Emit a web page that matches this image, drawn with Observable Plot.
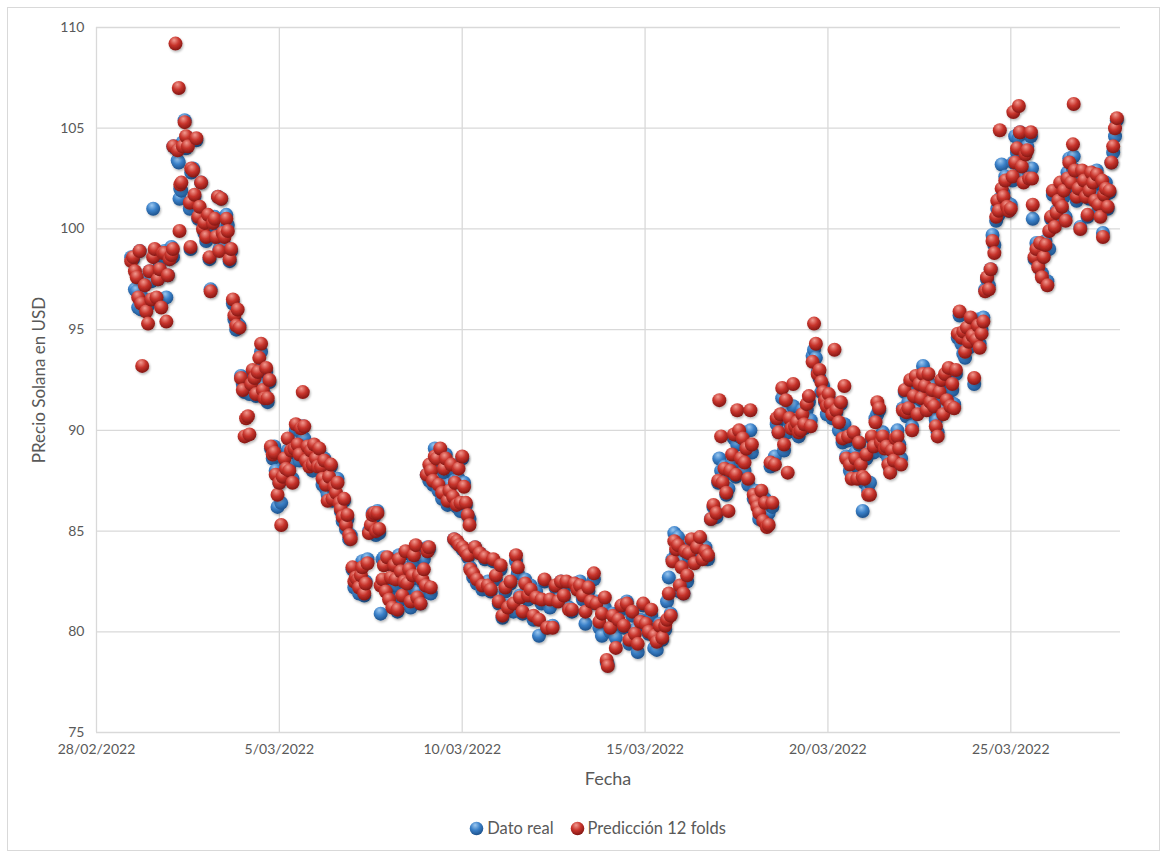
<!DOCTYPE html>
<html lang="es">
<head>
<meta charset="utf-8">
<script src="https://cdn.jsdelivr.net/npm/d3@7"></script>
<script src="https://cdn.jsdelivr.net/npm/@observablehq/plot@0.6"></script>
<style>
html,body{margin:0;padding:0;background:#fff;}
#wrap{position:relative;width:1167px;height:853px;overflow:hidden;font-family:Lato,"Open Sans",sans-serif;color:#595959;}
#frame{position:absolute;left:7px;top:7px;width:1153px;height:844px;border:1px solid #d9d9d9;box-sizing:border-box;}
#chart{position:absolute;left:0;top:0;}
#ytitle{position:absolute;left:38px;top:380px;transform:translate(-50%,-50%) rotate(-90deg);font-size:17px;white-space:nowrap;}
#xtitle{position:absolute;left:608px;top:778px;transform:translate(-50%,-50%);font-size:18px;}
#legend{position:absolute;left:14px;width:1167px;top:828px;transform:translateY(-50%);display:flex;justify-content:center;align-items:center;gap:16px;font-size:16.5px;}
.item{display:flex;align-items:center;gap:3px;}
</style>
</head>
<body>
<div id="wrap">
  <div id="frame"></div>
  <div id="chart"></div>
  <div id="ytitle">PRecio Solana en USD</div>
  <div id="xtitle">Fecha</div>
  <div id="legend"></div>
</div>
<script>
// Series names, axis ticks
const seriesNames = ["Dato real", "Predicción 12 folds"];
const xTickLabels = ["28/02/2022", "5/03/2022", "10/03/2022", "15/03/2022", "20/03/2022", "25/03/2022"];
const xDomainLabels = ["28/02/2022", "28/03/2022"];
const yTicks = [75, 80, 85, 90, 95, 100, 105, 110];

// Fecha (Excel serial date-time)
const fecha = [
44620.95,44621.00,44621.05,44621.10,44621.14,44621.18,44621.22,44621.25,44621.32,44621.36,44621.41,44621.45,44621.50,44621.55,44621.59,44621.64,44621.68,44621.73,44621.77,44621.82,44621.86,44621.91,44621.95,44622.00,44622.05,44622.09,
44622.10,44622.16,44622.22,44622.25,44622.27,44622.29,44622.32,44622.36,44622.41,44622.45,44622.50,44622.55,44622.57,44622.59,44622.64,44622.68,44622.73,44622.78,44622.82,44622.86,44622.91,44622.95,44623.00,44623.05,44623.09,44623.12,44623.18,44623.23,44623.27,44623.32,44623.36,44623.41,44623.45,44623.50,44623.55,44623.59,44623.64,44623.68,
44623.73,44623.77,44623.82,44623.86,44623.91,44623.95,44624.00,44624.05,44624.09,44624.14,44624.18,44624.23,44624.27,44624.32,44624.36,44624.41,44624.45,44624.50,44624.55,44624.59,44624.64,44624.68,44624.73,44624.77,44624.82,44624.86,44624.90,44624.95,44625.00,44625.05,44625.09,44625.14,44625.18,44625.23,44625.27,44625.32,44625.36,44625.41,44625.45,44625.50,44625.55,44625.59,44625.64,44625.68,44625.73,44625.77,44625.82,
44625.86,44625.91,44625.95,44626.00,44626.05,44626.09,44626.14,44626.18,44626.23,44626.27,44626.32,44626.36,44626.41,44626.45,44626.50,44626.55,44626.59,44626.64,44626.68,44626.73,44626.77,44626.82,44626.86,44626.91,44626.95,44627.00,44627.05,44627.09,44627.14,44627.18,44627.23,44627.27,44627.32,44627.36,44627.41,44627.45,44627.50,44627.55,44627.59,44627.64,44627.68,44627.73,44627.77,44627.82,44627.86,44627.91,44627.95,44628.00,44628.05,44628.09,44628.14,44628.18,44628.23,44628.27,44628.32,44628.36,44628.41,44628.45,44628.50,44628.55,44628.59,44628.64,44628.68,44628.73,44628.77,44628.82,44628.86,44628.91,44628.95,44629.00,44629.05,44629.09,44629.14,
44629.03,44629.10,44629.15,44629.20,44629.25,44629.30,44629.35,44629.40,44629.45,44629.50,44629.55,44629.60,44629.65,44629.70,44629.75,44629.80,44629.85,44629.90,44629.95,44630.00,44630.05,44630.10,44630.15,44630.20,44629.78,44629.86,44629.92,44630.01,44630.08,44630.16,44630.22,
44630.30,44630.35,44630.40,44630.48,44630.55,44630.62,44630.70,44630.78,44630.85,44630.92,44631.00,44631.05,44631.10,44631.18,44631.25,44631.32,44631.40,44631.47,44631.52,44631.58,44631.65,44631.72,44631.80,44631.87,44631.95,44632.02,44632.10,44632.17,44632.25,44632.32,44632.40,44632.47,44632.55,44632.62,44632.70,44632.78,44632.85,44632.92,44633.00,44633.07,44633.15,44633.22,44633.30,44633.37,44633.45,44633.52,44633.60,44633.67,44633.75,44633.82,44633.90,44633.95,44633.98,44634.05,44634.12,44634.20,44634.27,44634.35,44634.42,44634.50,44634.57,44634.65,44634.72,44634.80,44634.87,44634.95,44635.02,44635.10,44635.17,44635.25,44635.32,44635.40,44635.47,44635.55,44635.60,44635.65,44635.70,44635.75,44635.80,44635.85,44635.90,
44635.95,44636.00,44636.05,44636.10,44636.15,44636.20,44636.27,44636.35,44636.42,44636.50,44636.57,44636.65,44636.72,44636.80,44636.87,44636.95,44637.00,44637.03,44637.08,44637.12,44637.17,44637.22,44637.28,44637.33,44637.38,44637.43,44637.48,44637.52,44637.57,44637.62,44637.67,44637.72,44637.77,44637.82,44637.88,44637.92,44637.97,44638.02,44638.07,44638.12,44638.18,44638.23,44638.28,44638.33,44638.38,44638.43,44638.48,44638.55,44638.60,44638.65,44638.70,44638.75,44638.80,44638.85,44638.90,44638.95,44639.00,44639.05,44639.10,44639.15,44639.20,44639.25,44639.30,44639.35,44639.42,44639.48,44639.53,44639.58,44639.62,44639.67,44639.72,44639.77,44639.82,44639.87,44639.92,44639.97,44640.02,44640.07,44640.12,44640.18,44640.23,44640.30,44640.35,44640.40,44640.45,44640.50,44640.55,44640.60,44640.65,44640.70,44640.75,44640.80,44640.85,44640.90,44640.95,44641.00,44641.05,44641.10,
44641.15,44641.20,44641.25,44641.30,44641.35,44641.40,44641.45,44641.50,44641.55,44641.60,44641.65,44641.70,44641.75,44641.80,44641.85,44641.90,44641.95,44642.00,44642.05,44642.10,44642.15,44642.20,44642.25,44642.30,44642.35,44642.40,44642.45,44642.50,44642.55,44642.60,44642.65,44642.70,44642.75,44642.80,44642.85,44642.90,44642.95,44643.00,44643.05,44643.10,44643.15,44643.20,44643.25,44643.30,44643.35,44643.40,44643.45,44643.50,44643.55,44643.60,44643.65,44643.70,44643.75,44643.80,44643.85,44643.90,44643.95,44644.00,44644.05,44644.10,44644.15,44644.20,44644.25,44644.30,44644.35,44644.40,44644.45,44644.50,44644.55,44644.60,44644.63,44644.67,44644.70,44644.75,44644.80,44644.85,44644.90,44644.95,44645.00,44645.05,44645.07,44645.12,44645.17,44645.22,44645.25,44645.30,44645.35,44645.40,44645.45,44645.50,44645.55,44645.58,44645.60,44645.65,44645.70,44645.75,44645.80,44645.85,44645.90,44645.95,44646.00,44646.05,44646.10,44646.15,44646.20,44646.25,44646.30,44646.35,44646.40,44646.45,44646.50,44646.55,44646.60,44646.65,44646.70,44646.72,44646.75,44646.80,44646.85,44646.90,44646.95,44647.00,44647.05,44647.10,44647.15,44647.20,44647.25,44647.30,44647.35,44647.40,44647.45,44647.50,44647.52,44647.55,44647.60,44647.65,44647.70,44647.75,44647.80,44647.85,44647.90
];

// Dato real (USD)
const real = [
98.6,98.5,97.0,96.9,96.1,98.9,96.0,96.6,97.5,96.0,96.2,97.9,97.4,101.0,98.7,97.8,97.5,98.3,96.3,98.6,98.9,96.6,97.7,98.5,99.1,98.6,
104.1,104.0,103.4,103.3,101.5,102.0,101.9,104.3,105.4,104.0,104.5,101.0,99.0,102.8,103.0,101.6,104.4,100.5,100.8,102.3,100.3,99.8,99.4,99.9,98.5,97.0,100.1,100.6,99.6,101.6,99.0,101.5,100.1,99.2,100.7,100.2,98.4,98.9,
96.3,95.5,95.0,95.3,95.2,92.7,92.3,91.9,92.0,92.2,91.8,92.4,92.9,92.2,91.7,93.0,92.5,93.9,92.2,91.8,92.9,91.4,92.4,89.1,88.6,89.2,88.0,86.2,87.4,86.4,87.8,88.5,87.9,89.0,88.2,88.4,87.6,88.9,90.0,89.4,88.5,89.9,90.2,89.6,88.7,89.1,88.3,
88.8,88.0,89.2,88.5,88.3,89.0,88.0,87.3,88.6,87.1,86.8,87.5,88.2,86.5,87.0,86.6,87.6,86.4,86.0,85.5,86.5,85.1,85.6,84.6,84.8,83.1,82.2,82.8,83.0,81.9,82.6,83.5,81.8,82.5,83.6,85.0,85.1,85.9,85.7,84.8,86.0,84.9,80.9,83.6,83.7,82.3,83.5,82.0,82.6,81.5,83.2,82.3,81.0,83.8,82.7,81.6,82.9,83.9,82.1,83.2,81.2,82.6,83.5,84.2,82.0,82.9,81.4,82.5,83.6,82.0,84.2,84.1,81.9,
87.8,87.5,88.2,87.3,89.1,88.4,87.0,88.6,86.6,87.9,88.8,86.3,87.3,88.0,86.4,87.5,86.2,87.6,86.0,88.6,87.4,86.3,85.8,85.6,84.6,84.4,84.3,84.1,84.0,83.7,83.2,
82.7,84.2,82.4,83.9,82.1,83.6,82.5,82.0,83.5,82.6,81.4,83.1,80.7,82.0,81.3,82.4,81.0,83.5,82.9,81.8,80.9,82.6,81.6,82.3,80.6,82.0,79.8,81.4,82.5,80.2,81.2,80.3,82.2,81.6,82.5,81.7,82.3,81.2,81.0,82.3,82.1,82.5,81.6,80.4,82.0,81.4,82.6,81.5,80.2,79.8,81.2,78.5,78.4,80.0,80.9,79.7,80.4,81.1,80.2,81.5,79.4,80.8,80.1,79.0,80.6,81.3,80.3,79.9,80.8,79.2,79.1,80.4,79.6,80.1,81.5,82.7,80.9,83.6,84.9,83.9,84.7,
82.0,83.5,81.9,84.2,82.5,83.7,84.4,83.5,84.0,84.6,83.8,84.2,83.6,85.6,86.2,85.7,87.4,88.6,88.0,87.6,88.2,86.8,87.1,87.9,88.4,89.6,87.7,89.3,89.7,88.4,89.9,88.0,89.3,87.3,90.0,88.9,86.6,87.0,86.4,85.6,86.9,85.8,86.6,85.5,85.9,88.2,86.2,88.7,90.3,89.9,90.6,91.6,89.0,90.9,89.9,90.4,90.3,91.2,90.0,90.5,89.7,90.2,91.0,90.1,91.0,91.4,90.5,93.7,94.0,93.6,92.9,92.6,91.9,92.2,91.4,90.8,91.6,91.1,90.6,91.2,90.9,90.0,91.3,89.4,90.3,88.7,89.5,88.0,87.8,89.7,88.9,88.2,89.3,88.5,86.0,87.4,88.6,87.0,
87.4,89.6,88.9,90.6,90.8,91.0,89.3,89.9,88.9,89.4,88.6,88.1,89.0,88.4,89.5,90.0,89.3,88.6,91.1,91.9,90.7,91.4,92.3,90.2,91.8,92.5,91.0,92.1,91.5,93.2,92.0,91.3,92.4,91.6,92.2,90.9,90.5,89.9,91.6,92.3,91.0,92.6,91.7,92.9,91.4,92.0,91.3,92.8,94.6,95.7,94.3,93.8,93.6,94.9,94.1,95.3,94.5,92.3,94.8,95.5,94.3,95.0,95.6,97.0,97.5,97.2,98.0,99.7,99.2,100.4,101.0,100.7,101.5,103.2,101.8,102.6,101.3,100.9,101.2,102.4,103.3,104.6,103.8,104.5,104.8,103.0,102.6,103.7,104.1,102.8,104.6,103.0,100.5,98.5,99.3,98.3,99.1,97.8,98.8,99.4,97.4,99.0,100.5,101.7,100.2,100.9,101.8,102.0,100.9,101.6,100.6,102.8,103.5,102.1,103.0,103.6,102.7,101.4,102.2,100.1,102.7,102.5,101.9,100.6,101.5,102.6,102.1,101.6,102.9,101.0,100.7,102.2,99.8,101.6,102.3,101.0,101.8,103.3,103.8,104.6,105.4
];

// Predicción 12 folds (USD)
const pred = [
98.4,98.6,97.9,97.6,96.6,98.9,96.3,93.2,97.2,95.9,95.3,97.9,96.5,98.6,99.0,96.6,97.5,98.0,96.1,98.8,98.8,95.4,97.7,98.5,98.7,99.0,
104.1,109.2,103.9,107.0,99.9,102.2,102.3,104.1,105.3,104.6,104.1,101.3,99.1,103.0,102.9,101.7,104.5,100.6,101.1,102.3,100.0,100.3,99.6,100.7,98.6,96.9,100.3,100.5,99.6,101.6,98.9,101.5,99.8,99.6,100.5,99.9,98.5,99.0,
96.5,95.7,95.2,96.0,95.1,92.6,92.0,89.7,90.6,90.7,89.8,92.3,93.0,92.6,91.8,92.9,93.6,94.3,92.0,91.6,93.1,91.6,92.5,89.2,88.8,88.9,87.8,86.8,87.4,85.3,87.7,88.6,88.1,89.6,88.0,89.0,87.4,89.1,90.3,89.3,88.8,90.1,91.9,90.2,88.5,89.2,88.2,
89.0,88.3,89.3,88.6,88.2,89.1,88.2,87.6,88.5,87.3,86.5,87.7,88.3,86.6,87.2,86.9,87.4,86.4,86.1,85.7,86.6,85.3,85.8,84.8,84.6,83.2,82.5,82.7,82.6,82.2,82.8,83.2,81.9,82.4,83.4,84.9,85.3,85.8,85.9,85.0,85.9,85.1,82.3,82.6,83.3,82.0,83.7,81.6,82.7,81.2,83.3,82.6,81.1,83.6,83.0,81.8,82.5,84.0,82.4,83.1,81.5,82.8,83.8,84.3,81.7,82.8,81.4,82.6,83.1,82.3,84.0,84.2,82.2,
87.8,88.3,88.0,87.5,88.7,88.6,87.3,89.1,86.9,88.1,88.6,86.5,87.0,88.3,86.7,87.4,86.3,88.1,86.4,88.7,87.2,86.4,85.8,85.3,84.6,84.5,84.3,84.2,84.0,83.8,83.1,
82.9,84.2,82.6,83.9,82.3,83.7,82.3,82.1,83.6,82.8,81.5,83.3,80.8,82.2,81.2,82.5,81.4,83.8,83.2,81.7,81.0,82.4,81.8,82.1,80.8,81.7,80.6,81.6,82.6,80.2,81.6,80.2,82.3,81.5,82.5,81.8,82.5,81.1,81.1,82.4,82.1,82.3,81.8,81.0,82.2,81.5,82.9,81.4,80.5,80.9,81.7,78.6,78.3,80.2,80.8,79.2,80.6,81.3,80.3,81.4,79.6,81.0,79.9,79.4,80.5,81.4,80.4,80.0,81.1,79.8,79.5,80.3,79.7,80.3,80.6,81.9,80.8,83.5,84.5,84.1,84.3,
82.3,83.2,81.9,84.0,82.8,83.9,84.6,83.4,84.2,84.7,83.6,84.0,83.8,85.6,86.3,85.9,87.5,91.5,89.7,87.4,88.1,86.9,86.0,88.0,88.8,89.8,87.8,91.0,90.0,88.6,89.6,88.4,89.1,87.6,91.0,89.3,86.8,86.5,86.2,85.9,87.0,85.5,86.4,85.2,85.3,88.4,86.4,88.3,90.6,89.9,90.8,92.1,89.3,91.5,87.9,90.6,90.1,92.3,90.2,90.4,89.9,90.0,90.8,90.3,91.3,91.7,90.2,93.4,95.3,94.3,92.8,93.0,92.4,91.9,91.5,91.2,91.8,91.3,90.8,94.0,91.0,90.4,91.4,89.6,92.2,88.6,89.7,88.3,87.6,89.9,88.6,87.6,89.4,88.3,87.7,87.6,88.8,86.8,
86.8,89.7,89.2,90.4,91.4,91.1,89.4,89.7,89.1,89.2,88.3,87.9,89.0,88.5,89.6,89.7,89.1,88.3,91.0,92.0,90.9,91.1,92.5,90.0,91.7,92.7,90.8,92.3,91.6,92.8,92.2,91.0,92.8,91.4,92.0,91.2,90.2,89.7,91.9,92.5,90.8,92.8,91.5,93.1,91.2,92.3,91.1,93.0,94.8,95.9,94.6,94.9,93.9,95.1,94.4,95.6,94.7,92.6,94.5,95.2,94.1,94.8,95.4,96.9,97.6,97.0,98.0,99.4,98.8,100.6,101.4,100.9,104.9,102.0,101.6,102.4,101.1,100.9,101.0,102.6,105.8,103.3,104.0,106.1,104.8,103.1,102.3,103.7,103.9,102.5,104.8,102.5,101.2,98.6,99.0,98.1,99.3,97.6,98.6,99.2,97.2,99.9,100.6,101.9,100.1,100.8,101.4,102.3,101.1,101.9,100.4,102.5,103.3,102.3,104.2,106.2,102.9,101.6,102.0,100.0,102.9,102.4,101.6,100.7,101.9,102.8,102.3,101.4,102.7,101.2,100.6,102.4,99.6,101.7,102.0,101.1,101.9,103.3,104.1,105.0,105.5
];

const parseDay = d3.timeParse("%d/%m/%Y");
const fromSerial = s => {
  const d = Math.floor(s);
  return new Date(1899, 11, 30 + d, 0, Math.round((s - d) * 1440));
};
const n = Math.min(fecha.length, real.length, pred.length);
const realData = [], predData = [];
for (let i = 0; i < n; i++) {
  const f = fromSerial(fecha[i]);
  realData.push({fecha: f, precio: real[i]});
  predData.push({fecha: f, precio: pred[i]});
}
const xTicks = xTickLabels.map(parseDay);
const xDomain = xDomainLabels.map(parseDay);

const svg = Plot.plot({
  width: 1167,
  height: 800,
  marginLeft: 96,
  marginRight: 47,
  marginTop: 27,
  marginBottom: 68,
  style: {fontFamily: "Lato, 'Open Sans', sans-serif", fontSize: "14px", color: "#595959", background: "transparent", overflow: "visible"},
  x: {type: "time", domain: xDomain, ticks: xTicks, tickFormat: d3.timeFormat("%-d/%m/%Y"), tickSize: 0, tickPadding: 12, label: null},
  y: {domain: [yTicks[0], yTicks[yTicks.length - 1]], ticks: yTicks, tickSize: 0, tickPadding: 12, label: null},
  marks: [
    Plot.ruleX(xTicks, {stroke: "#d9d9d9", strokeWidth: 1.3}),
    Plot.ruleY(yTicks, {stroke: "#d9d9d9", strokeWidth: 1.3}),
    Plot.dot(realData, {x: "fecha", y: "precio", r: 7, fill: "url(#esferaAzul)", stroke: "none"}),
    Plot.dot(predData, {x: "fecha", y: "precio", r: 7, fill: "url(#esferaRoja)", stroke: "none"})
  ]
});

// sphere gradients + soft shadow
const sel = d3.select(svg);
const defs = sel.insert("defs", ":first-child");
function sphere(id, c0, c1, c2) {
  const g = defs.append("radialGradient").attr("id", id)
    .attr("cx", "0.42").attr("cy", "0.32").attr("r", "0.7").attr("fx", "0.4").attr("fy", "0.25");
  g.append("stop").attr("offset", "0").attr("stop-color", c0);
  g.append("stop").attr("offset", "0.5").attr("stop-color", c1);
  g.append("stop").attr("offset", "1").attr("stop-color", c2);
}
sphere("esferaAzul", "#9cc8f0", "#3a80c8", "#1c4f88");
sphere("esferaRoja", "#f29a90", "#c8342c", "#7e1512");
const f = defs.append("filter").attr("id", "sombra").attr("x", "-20%").attr("y", "-20%").attr("width", "140%").attr("height", "140%");
f.append("feDropShadow").attr("dx", 1).attr("dy", 1.6).attr("stdDeviation", 1.2).attr("flood-color", "#000").attr("flood-opacity", 0.28);
sel.selectAll("g[aria-label='dot']").attr("filter", "url(#sombra)");

document.getElementById("chart").appendChild(svg);

// legend
const legend = d3.select("#legend");
const gradIds = ["esferaAzul", "esferaRoja"];
seriesNames.forEach((name, i) => {
  const item = legend.append("div").attr("class", "item");
  const s = item.append("svg").attr("width", 15).attr("height", 15);
  s.append("circle").attr("cx", 7.5).attr("cy", 7.5).attr("r", 6.8).attr("fill", `url(#${gradIds[i]})`);
  item.append("span").text(name);
});
</script>
</body>
</html>
